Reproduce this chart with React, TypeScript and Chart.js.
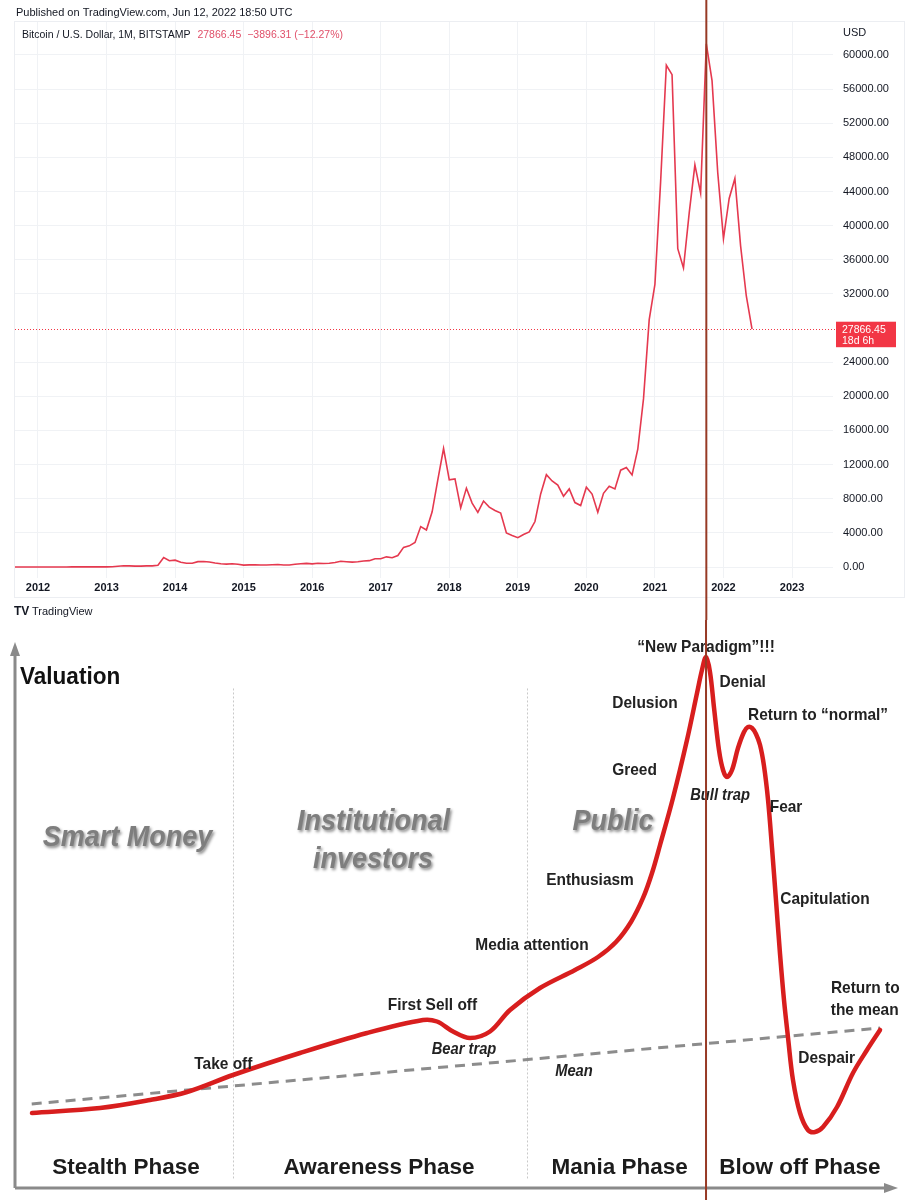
import React, { useEffect, useRef } from "react";
import { Chart, registerables } from "chart.js";

Chart.register(...registerables);

const FONT = "'Liberation Sans', Arial, Helvetica, sans-serif";

// ---------------- Top chart: BTC/USD monthly closes (Bitstamp) ----------------
const closes2011 = [8.2, 5.1, 3.25, 2.97, 4.72]; // Aug–Dec
const closes2012 = [5.5, 4.86, 4.9, 4.95, 5.17, 6.69, 9.35, 10.19, 12.4, 11.2, 12.56, 13.51];
const closes2013 = [20.4, 33.4, 93, 139, 129, 97.5, 106, 135, 133, 198, 1120, 732];
const closes2014 = [800, 550, 445, 447, 628, 640, 585, 478, 387, 338, 378, 320];
const closes2015 = [217, 254, 244, 236, 230, 263, 284, 230, 236, 314, 377, 430];
const closes2016 = [368, 437, 416, 448, 531, 673, 624, 573, 608, 700, 742, 963];
const closes2017 = [970, 1190, 1080, 1348, 2300, 2480, 2875, 4735, 4338, 6468, 10233, 13880];
const closes2018 = [10221, 10327, 6925, 9240, 7494, 6391, 7729, 7023, 6625, 6318, 3990, 3693];
const closes2019 = [3430, 3815, 4105, 5330, 8560, 10820, 10080, 9600, 8300, 9150, 7550, 7200];
const closes2020 = [9350, 8550, 6425, 8630, 9455, 9140, 11350, 11650, 10780, 13800, 19700, 28990];
const closes2021 = [33110, 45160, 58800, 57700, 37300, 35040, 41460, 47130, 43820, 61300, 57000, 46200];
const closes2022 = [38480, 43190, 45530, 37640, 31760, 27866.45]; // Jan–Jun

const yearSeries: [number, number, number[]][] = [
  [2011, 8, closes2011],
  [2012, 1, closes2012],
  [2013, 1, closes2013],
  [2014, 1, closes2014],
  [2015, 1, closes2015],
  [2016, 1, closes2016],
  [2017, 1, closes2017],
  [2018, 1, closes2018],
  [2019, 1, closes2019],
  [2020, 1, closes2020],
  [2021, 1, closes2021],
  [2022, 1, closes2022],
];

const yearTicks = [2012, 2013, 2014, 2015, 2016, 2017, 2018, 2019, 2020, 2021, 2022, 2023];
const priceTickLabels = [0, 4000, 8000, 12000, 16000, 20000, 24000, 32000, 36000, 40000, 44000, 48000, 52000, 56000, 60000];

const lastClose = 27866.45;
const lastChange = "\u22123896.31 (\u221212.27%)";
const countdown = "18d 6h";
const headerText = "Published on TradingView.com, Jun 12, 2022 18:50 UTC";
const symbolText = "Bitcoin / U.S. Dollar, 1M, BITSTAMP";

// ---------------- Bottom chart: market cycle diagram ----------------
const cycleTime = [
  2.04, 9.76, 15.44, 19.64, 24.86, 32.46, 40.07, 46.42, 48.01, 49.83, 51.76, 54.03, 56.3, 59.7, 63.68,
  66.29, 68.33, 70.03, 71.4, 72.42, 73.33, 74.8, 76.39, 77.53, 78.09, 78.55, 79.0, 79.46, 80.02, 80.48,
  80.93, 81.5, 82.18, 82.86, 83.31, 83.77, 84.22, 84.68, 85.13, 85.59, 86.04, 86.49, 86.95, 87.4, 87.85,
  88.42, 89.22, 90.12, 90.92, 91.83, 93.42, 95.23, 96.82, 98.3,
];
const cycleValuation = [
  13.81, 14.73, 16.21, 17.68, 20.81, 24.86, 28.55, 30.94, 30.66, 28.82, 27.62, 28.82, 32.78, 36.83, 40.15,
  42.54, 45.3, 48.99, 53.41, 58.01, 63.17, 71.82, 82.5, 91.16, 95.4, 97.79, 95.03, 88.4, 80.66, 76.98,
  75.69, 76.98, 81.03, 83.98, 84.9, 84.71, 83.61, 81.58, 77.72, 71.45, 62.62, 53.04, 43.09, 34.62, 27.81,
  19.89, 13.81, 10.68, 10.31, 11.23, 14.92, 21.18, 25.41, 29.1,
];
const meanTime = [2.01, 98.3];
const meanValuation = [15.47, 29.47];
const phaseDividers = [24.86, 58.23];

type Kind = "title" | "label" | "italic" | "group" | "phase";
const cycleLabels: { text: string; x: number; y: number; kind: Kind }[] = [
  { text: "Valuation", x: 0.68, y: 93.92, kind: "title" },
  { text: "Smart Money", x: 12.88, y: 64.46, kind: "group" },
  { text: "Institutional", x: 40.81, y: 67.4, kind: "group" },
  { text: "investors", x: 40.75, y: 60.41, kind: "group" },
  { text: "Public", x: 68.0, y: 67.4, kind: "group" },
  { text: "\u201CNew Paradigm\u201D!!!", x: 78.55, y: 99.63, kind: "label" },
  { text: "Denial", x: 82.71, y: 93.19, kind: "label" },
  { text: "Delusion", x: 71.62, y: 89.32, kind: "label" },
  { text: "Return to \u201Cnormal\u201D", x: 91.26, y: 87.11, kind: "label" },
  { text: "Greed", x: 70.43, y: 76.98, kind: "label" },
  { text: "Bull trap", x: 80.14, y: 72.19, kind: "italic" },
  { text: "Fear", x: 87.63, y: 70.17, kind: "label" },
  { text: "Enthusiasm", x: 65.38, y: 56.72, kind: "label" },
  { text: "Capitulation", x: 92.05, y: 53.22, kind: "label" },
  { text: "Media attention", x: 58.8, y: 44.75, kind: "label" },
  { text: "First Sell off", x: 47.5, y: 33.7, kind: "label" },
  { text: "Bear trap", x: 51.08, y: 25.54, kind: "italic" },
  { text: "Take off", x: 23.76, y: 22.84, kind: "label" },
  { text: "Mean", x: 63.56, y: 21.36, kind: "italic" },
  { text: "Return to", x: 96.63, y: 36.78, kind: "label" },
  { text: "the mean", x: 96.56, y: 32.78, kind: "label" },
  { text: "Despair", x: 92.25, y: 23.88, kind: "label" },
  { text: "Stealth Phase", x: 12.71, y: 3.63, kind: "phase" },
  { text: "Awareness Phase", x: 41.43, y: 3.68, kind: "phase" },
  { text: "Mania Phase", x: 68.75, y: 3.68, kind: "phase" },
  { text: "Blow off Phase", x: 89.2, y: 3.68, kind: "phase" },
];

const labelStyles: Record<Kind, { font: string; color: string; sx: number; align: CanvasTextAlign; shadow?: boolean }> = {
  title: { font: `bold 23px ${FONT}`, color: "#111111", sx: 0.98, align: "left" },
  label: { font: `bold 17px ${FONT}`, color: "#222222", sx: 0.91, align: "center" },
  italic: { font: `italic bold 16px ${FONT}`, color: "#222222", sx: 0.92, align: "center" },
  group: { font: `italic bold 30px ${FONT}`, color: "#7e7e7e", sx: 0.9, align: "center", shadow: true },
  phase: { font: `bold 22.5px ${FONT}`, color: "#1c1c1c", sx: 1, align: "center" },
};

const BROWN = "#973a25";
const BTC_RED = "#e5394f";
const TV_RED = "#f23645";

function drawBrownLine(chart: any, xPix: number) {
  const ctx = chart.ctx;
  ctx.save();
  ctx.strokeStyle = BROWN;
  ctx.lineWidth = 2;
  ctx.beginPath();
  ctx.moveTo(xPix, 0);
  ctx.lineTo(xPix, chart.height);
  ctx.stroke();
  ctx.restore();
}

const topDecor = {
  id: "topDecor",
  beforeDraw(chart: any) {
    const { ctx, chartArea: a } = chart;
    ctx.save();
    ctx.fillStyle = "#ffffff";
    ctx.fillRect(0, 0, chart.width, chart.height);
    ctx.strokeStyle = "#eceef2";
    ctx.lineWidth = 1;
    ctx.strokeRect(a.left - 0.5, a.top - 0.5, chart.width - 8 - a.left, a.bottom + 20 - a.top);
    ctx.restore();
  },
  beforeDatasetsDraw(chart: any) {
    const { ctx, chartArea: a, scales } = chart;
    const py = Math.round(scales.y.getPixelForValue(lastClose)) + 0.5;
    ctx.save();
    ctx.strokeStyle = TV_RED;
    ctx.lineWidth = 1;
    ctx.setLineDash([1, 2]);
    ctx.beginPath();
    ctx.moveTo(a.left, py);
    ctx.lineTo(a.right + 3, py);
    ctx.stroke();
    ctx.restore();
  },
  afterDraw(chart: any) {
    const { ctx, chartArea: a, scales } = chart;
    ctx.save();
    ctx.textBaseline = "middle";
    ctx.textAlign = "left";
    ctx.fillStyle = "#131722";
    ctx.font = `11px ${FONT}`;
    ctx.fillText(headerText, 16, 13);
    ctx.font = `10.5px ${FONT}`;
    let lx = a.left + 7;
    const ly = a.top + 13;
    ctx.fillStyle = "#131722";
    ctx.fillText(symbolText, lx, ly);
    lx += ctx.measureText(symbolText).width + 7;
    ctx.fillStyle = "#e0506a";
    const lcText = lastClose.toFixed(2);
    ctx.fillText(lcText, lx, ly);
    lx += ctx.measureText(lcText).width + 6;
    ctx.fillText(lastChange, lx, ly);
    ctx.fillStyle = "#131722";
    ctx.font = `11px ${FONT}`;
    ctx.fillText("USD", a.right + 10, a.top + 11);
    const py = scales.y.getPixelForValue(lastClose);
    ctx.fillStyle = TV_RED;
    ctx.fillRect(a.right + 3, py - 7.5, 60, 25.5);
    ctx.fillStyle = "#ffffff";
    ctx.font = `10.5px ${FONT}`;
    ctx.fillText(lastClose.toFixed(2), a.right + 9, py + 0.5);
    ctx.fillText(countdown, a.right + 9, py + 12);
    ctx.fillStyle = "#131722";
    ctx.font = `bold 12px ${FONT}`;
    ctx.fillText("TV", 14, 612);
    ctx.font = `11px ${FONT}`;
    ctx.fillText("TradingView", 32, 612);
    ctx.restore();
    const ds = chart.data.datasets[0].data as { x: number; y: number }[];
    let peak = ds[0];
    for (const p of ds) if (p.y > peak.y) peak = p;
    drawBrownLine(chart, scales.x.getPixelForValue(peak.x));
  },
};

const bottomDecor = {
  id: "bottomDecor",
  beforeDraw(chart: any) {
    const { ctx } = chart;
    ctx.save();
    ctx.fillStyle = "#ffffff";
    ctx.fillRect(0, 0, chart.width, chart.height);
    ctx.restore();
  },
  beforeDatasetsDraw(chart: any) {
    const { ctx, chartArea: a, scales } = chart;
    ctx.save();
    ctx.strokeStyle = "#c9c9c9";
    ctx.lineWidth = 1;
    ctx.setLineDash([2, 2]);
    for (const d of phaseDividers) {
      const x = Math.round(scales.x.getPixelForValue(d)) + 0.5;
      ctx.beginPath();
      ctx.moveTo(x, scales.y.getPixelForValue(92));
      ctx.lineTo(x, scales.y.getPixelForValue(1.4));
      ctx.stroke();
    }
    ctx.setLineDash([]);
    ctx.strokeStyle = "#8a8a8a";
    ctx.fillStyle = "#8a8a8a";
    ctx.lineWidth = 3;
    const ox = a.left + 1;
    const oy = a.bottom;
    ctx.beginPath();
    ctx.moveTo(ox, oy);
    ctx.lineTo(ox, a.top + 8);
    ctx.moveTo(ox, oy);
    ctx.lineTo(a.right - 6, oy);
    ctx.stroke();
    ctx.beginPath();
    ctx.moveTo(ox, a.top - 3);
    ctx.lineTo(ox - 5, a.top + 11);
    ctx.lineTo(ox + 5, a.top + 11);
    ctx.closePath();
    ctx.fill();
    ctx.beginPath();
    ctx.moveTo(a.right + 3, oy);
    ctx.lineTo(a.right - 11, oy - 5);
    ctx.lineTo(a.right - 11, oy + 5);
    ctx.closePath();
    ctx.fill();
    ctx.restore();
  },
  afterDatasetsDraw(chart: any) {
    const { ctx, scales } = chart;
    for (const l of cycleLabels) {
      const st = labelStyles[l.kind];
      const px = scales.x.getPixelForValue(l.x);
      const py = scales.y.getPixelForValue(l.y);
      ctx.save();
      ctx.font = st.font;
      ctx.fillStyle = st.color;
      ctx.textAlign = st.align;
      ctx.textBaseline = "middle";
      if (st.shadow) {
        ctx.shadowColor = "rgba(0,0,0,0.45)";
        ctx.shadowBlur = 3;
        ctx.shadowOffsetX = 1.5;
        ctx.shadowOffsetY = 1.5;
      }
      ctx.translate(px, py);
      ctx.scale(st.sx, 1);
      ctx.fillText(l.text, 0, 0);
      ctx.restore();
    }
    let pi = 0;
    for (let i = 0; i < cycleValuation.length; i++) if (cycleValuation[i] > cycleValuation[pi]) pi = i;
    drawBrownLine(chart, scales.x.getPixelForValue(cycleTime[pi]));
  },
};

export default function App() {
  const topRef = useRef<HTMLCanvasElement | null>(null);
  const botRef = useRef<HTMLCanvasElement | null>(null);

  useEffect(() => {
    const btcPoints: { x: number; y: number }[] = [];
    for (const [yr, startMonth, vals] of yearSeries) {
      vals.forEach((v, i) => btcPoints.push({ x: yr + (startMonth - 1 + i) / 12, y: v }));
    }
    const top = new Chart(topRef.current as HTMLCanvasElement, {
      type: "line",
      data: {
        datasets: [
          {
            data: btcPoints,
            borderColor: BTC_RED,
            borderWidth: 1.6,
            pointRadius: 0,
            tension: 0,
            fill: false,
          },
        ],
      },
      options: {
        animation: false,
        responsive: false,
        maintainAspectRatio: false,
        layout: { padding: { left: 15, top: 22, right: 0, bottom: 0 } },
        plugins: { legend: { display: false }, tooltip: { enabled: false } },
        scales: {
          x: {
            type: "linear",
            position: "bottom",
            min: 2011.6645,
            max: 2023.598,
            afterBuildTicks: (s: any) => {
              s.ticks = yearTicks.map((v) => ({ value: v }));
            },
            afterFit: (s: any) => {
              s.height = 42;
            },
            grid: { color: "#f0f2f5", drawTicks: false, lineWidth: 1 },
            border: { display: false },
            ticks: {
              padding: 3,
              color: "#131722",
              font: { family: FONT, size: 11, weight: "bold" },
              maxRotation: 0,
              autoSkip: false,
              callback: (v: any) => String(v),
            },
          },
          y: {
            type: "linear",
            position: "right",
            min: -1289,
            max: 63867,
            afterBuildTicks: (s: any) => {
              s.ticks = priceTickLabels.map((v) => ({ value: v }));
            },
            afterFit: (s: any) => {
              s.width = 80;
            },
            grid: { color: "#f0f2f5", drawTicks: false, lineWidth: 1 },
            border: { display: false },
            ticks: {
              padding: 10,
              color: "#131722",
              font: { family: FONT, size: 11 },
              callback: (v: any) => Number(v).toFixed(2),
            },
          },
        },
      },
      plugins: [topDecor],
    } as any);

    const cyclePoints = cycleTime.map((t, i) => ({ x: t, y: cycleValuation[i] }));
    const meanPoints = meanTime.map((t, i) => ({ x: t, y: meanValuation[i] }));
    const bottom = new Chart(botRef.current as HTMLCanvasElement, {
      type: "line",
      data: {
        datasets: [
          {
            data: cyclePoints,
            borderColor: "#d81e1e",
            borderWidth: 4.5,
            pointRadius: 0,
            tension: 0.35,
            borderCapStyle: "round",
            borderJoinStyle: "round",
            fill: false,
          },
          {
            data: meanPoints,
            borderColor: "#8c8c8c",
            borderWidth: 3,
            borderDash: [10, 7],
            pointRadius: 0,
            fill: false,
          },
        ],
      },
      options: {
        animation: false,
        responsive: false,
        maintainAspectRatio: false,
        layout: { padding: { left: 14, right: 18, top: 25, bottom: 12 } },
        plugins: { legend: { display: false }, tooltip: { enabled: false } },
        scales: {
          x: { type: "linear", display: false, min: 0, max: 100 },
          y: { type: "linear", display: false, min: 0, max: 100 },
        },
      },
      plugins: [bottomDecor],
    } as any);

    return () => {
      top.destroy();
      bottom.destroy();
    };
  }, []);

  return (
    <div style={{ position: "absolute", left: 0, top: 0, width: 913, height: 1200, background: "#fff" }}>
      <canvas ref={topRef} width={913} height={620} style={{ display: "block", width: 913, height: 620 }} />
      <canvas ref={botRef} width={913} height={580} style={{ display: "block", width: 913, height: 580 }} />
    </div>
  );
}
